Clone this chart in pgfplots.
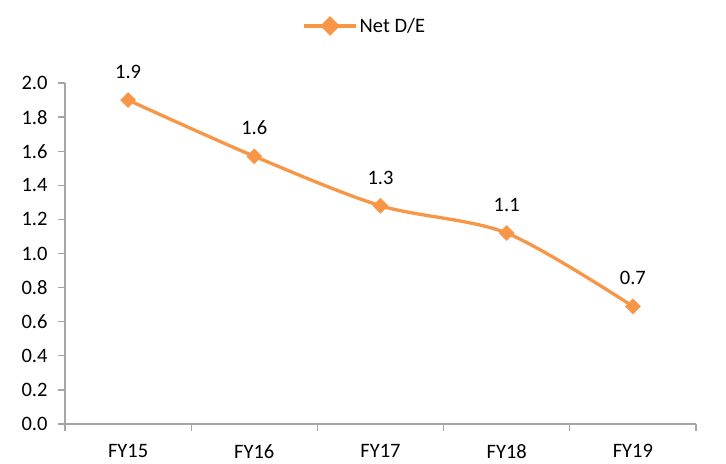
\documentclass[border=0pt]{standalone}
\usepackage{pgfplots}
\pgfplotsset{compat=1.18}
\usepackage{fontspec}
\setmainfont{Carlito}
\definecolor{deorange}{HTML}{F79646}
\definecolor{axisgray}{HTML}{A6A6A6}
\begin{document}
\begin{tikzpicture}
\begin{axis}[
  name=ax,
  scale only axis,
  width=631pt, height=341pt,
  xmin=-0.5, xmax=4.5,
  ymin=0, ymax=2.0,
  ytick={0,0.2,...,2.0},
  yticklabel style={/pgf/number format/fixed, /pgf/number format/fixed zerofill, /pgf/number format/precision=1},
  /pgf/number format/assume math mode=true,
  xtick={0,1,2,3,4},
  xticklabels={FY15,FY16,FY17,FY18,FY19},
  minor xtick={-0.5,0.5,1.5,2.5,3.5,4.5},
  major x tick style={draw=none},
  minor x tick style={draw=axisgray, line width=1.2pt},
  major y tick style={draw=axisgray, line width=1.2pt},
  tick align=outside,
  major tick length=7pt,
  minor tick length=7pt,
  axis x line*=bottom,
  axis y line*=left,
  axis line style={draw=axisgray, line width=1.4pt, -},
  tick label style={font=\fontsize{20.5}{22}\selectfont, text=black},
  xticklabel style={yshift=-10pt},
  yticklabel style={xshift=-7pt},
  legend style={
    at={(0.475,1.0)}, anchor=south, yshift=45pt,
    draw=none, fill=none,
    font=\fontsize{20.5}{22}\selectfont,
  },
  legend image code/.code={
    \draw[deorange, line width=3.3pt] (0pt,0pt) -- (52pt,0pt);
    \draw[deorange, fill=deorange] plot[mark=square*, mark size=5.3pt, mark options={rotate=45}] coordinates {(26pt,0pt)};
  },
  nodes near coords,
  point meta=explicit,
  every node near coord/.append style={
    font=\fontsize{20.5}{22}\selectfont, text=black, anchor=south, yshift=18pt,
    /pgf/number format/fixed, /pgf/number format/fixed zerofill, /pgf/number format/precision=1,
  },
  clip=false,
]
\addplot[
  color=deorange, line width=3.3pt, smooth, tension=0.5,
  mark=square*, mark size=5.3pt,
  mark options={rotate=45, fill=deorange, draw=deorange, line width=0.5pt},
] table[meta=y] {
x y
0 1.90
1 1.57
2 1.28
3 1.12
4 0.69
};
\addlegendentry{Net D/E}
\end{axis}
\pgfresetboundingbox
\path ([xshift=-65pt,yshift=-39pt]ax.south west) rectangle ([xshift=30pt,yshift=83pt]ax.north east);
\end{tikzpicture}
\end{document}
